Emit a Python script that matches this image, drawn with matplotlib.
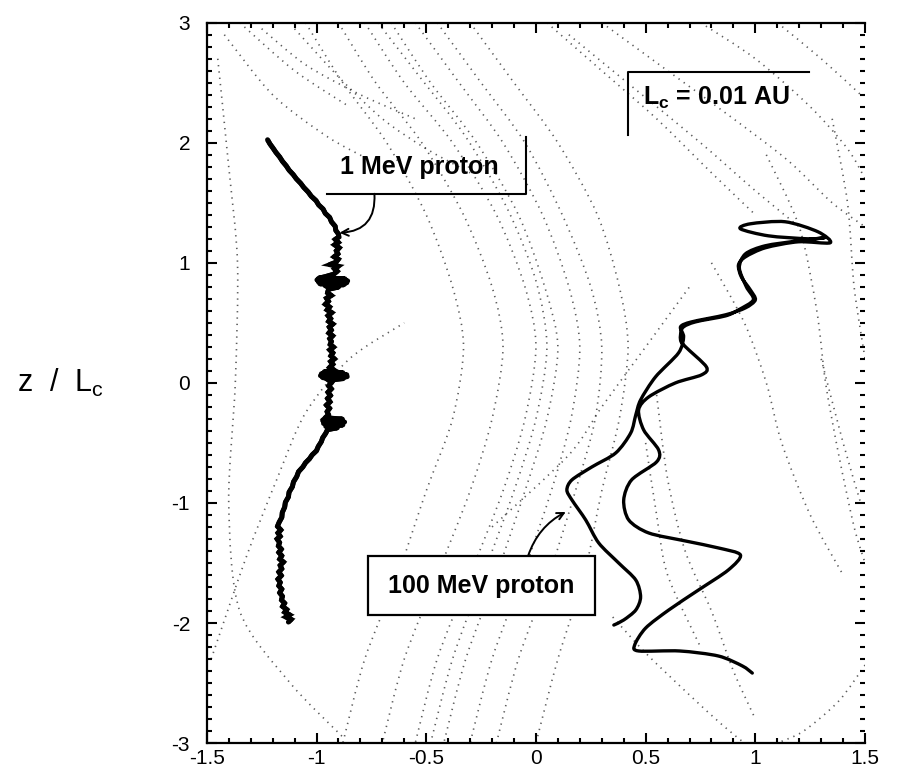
import numpy as np
import matplotlib
matplotlib.use("Agg")
import matplotlib.pyplot as plt
from matplotlib.ticker import MultipleLocator
from matplotlib.path import Path
from matplotlib.patches import PathPatch, Rectangle

plt.rcParams['font.family'] = ['Liberation Sans', 'DejaVu Sans']
plt.rcParams['mathtext.fontset'] = 'custom'
plt.rcParams['mathtext.rm'] = 'Liberation Sans'
plt.rcParams['mathtext.it'] = 'Liberation Sans'
plt.rcParams['mathtext.bf'] = 'Liberation Sans:bold'
plt.rcParams['axes.unicode_minus'] = False

# ---- axis ticks -----------------------------------------------------------
x_ticks = [-1.5, -1.0, -0.5, 0.0, 0.5, 1.0, 1.5]
x_tick_labels = ['-1.5', '-1', '-0.5', '0', '0.5', '1', '1.5']
y_ticks = [-3, -2, -1, 0, 1, 2, 3]
y_tick_labels = ['-3', '-2', '-1', '0', '1', '2', '3']

# ---- 1 MeV proton trajectory: (x / Lc, z / Lc) ----------------------------
p1_points = [
    (-1.223, 2.025), (-1.212, 1.990), (-1.198, 1.955), (-1.185, 1.920), (-1.168, 1.882),
    (-1.155, 1.845), (-1.138, 1.808), (-1.125, 1.772), (-1.106, 1.735), (-1.092, 1.700),
    (-1.072, 1.662), (-1.058, 1.628), (-1.038, 1.590), (-1.024, 1.555), (-1.002, 1.518),
    (-0.990, 1.482), (-0.970, 1.448), (-0.960, 1.412), (-0.940, 1.378), (-0.932, 1.342),
    (-0.915, 1.305), (-0.912, 1.270), (-0.900, 1.240),
    (-0.898, 1.215), (-0.915, 1.195), (-0.900, 1.170), (-0.918, 1.150), (-0.896, 1.125),
    (-0.910, 1.100), (-0.902, 1.075), (-0.920, 1.050), (-0.900, 1.030), (-0.912, 1.005),
    (-0.940, 0.985), (-0.900, 0.972), (-0.918, 0.950), (-0.905, 0.930), (-0.922, 0.905),
    (-0.960, 0.885), (-0.990, 0.872), (-0.870, 0.866), (-0.998, 0.858), (-0.858, 0.850),
    (-0.992, 0.842), (-0.862, 0.834), (-0.985, 0.826), (-0.875, 0.818), (-0.960, 0.808),
    (-0.900, 0.798), (-0.945, 0.780),
    (-0.950, 0.750), (-0.932, 0.728), (-0.955, 0.705), (-0.945, 0.680), (-0.960, 0.655),
    (-0.940, 0.632), (-0.952, 0.608), (-0.930, 0.585), (-0.948, 0.560), (-0.935, 0.535),
    (-0.945, 0.512), (-0.925, 0.490), (-0.942, 0.465), (-0.932, 0.440), (-0.944, 0.415),
    (-0.926, 0.392), (-0.940, 0.368), (-0.932, 0.345), (-0.938, 0.320), (-0.922, 0.298),
    (-0.940, 0.275), (-0.925, 0.250), (-0.935, 0.225), (-0.918, 0.200), (-0.936, 0.178),
    (-0.925, 0.155), (-0.940, 0.130), (-0.922, 0.110),
    (-0.965, 0.092), (-0.880, 0.085), (-0.978, 0.076), (-0.862, 0.068), (-0.982, 0.060),
    (-0.860, 0.052), (-0.972, 0.044), (-0.878, 0.036), (-0.945, 0.022), (-0.930, 0.005),
    (-0.945, -0.025), (-0.932, -0.050), (-0.948, -0.078), (-0.936, -0.105), (-0.950, -0.130),
    (-0.938, -0.158), (-0.955, -0.185), (-0.940, -0.212), (-0.952, -0.240), (-0.945, -0.265),
    (-0.960, -0.290), (-0.882, -0.302), (-0.972, -0.314), (-0.872, -0.326), (-0.968, -0.338),
    (-0.880, -0.350), (-0.958, -0.362), (-0.905, -0.374), (-0.950, -0.390),
    (-0.958, -0.420), (-0.972, -0.458), (-0.978, -0.490), (-0.992, -0.530), (-1.000, -0.565),
    (-1.020, -0.600), (-1.032, -0.632), (-1.050, -0.665), (-1.062, -0.700), (-1.082, -0.740),
    (-1.090, -0.780), (-1.105, -0.825), (-1.110, -0.865), (-1.125, -0.910), (-1.128, -0.950),
    (-1.142, -0.995), (-1.145, -1.035), (-1.156, -1.080), (-1.158, -1.120), (-1.170, -1.160),
    (-1.178, -1.195),
    (-1.162, -1.225), (-1.176, -1.250), (-1.165, -1.278), (-1.180, -1.300), (-1.168, -1.330),
    (-1.174, -1.358), (-1.160, -1.385), (-1.172, -1.412), (-1.158, -1.440), (-1.168, -1.468),
    (-1.150, -1.492), (-1.166, -1.520), (-1.158, -1.548), (-1.172, -1.575), (-1.160, -1.605),
    (-1.176, -1.635), (-1.165, -1.662), (-1.172, -1.690), (-1.158, -1.718), (-1.168, -1.748),
    (-1.155, -1.778), (-1.160, -1.808), (-1.145, -1.835), (-1.155, -1.862), (-1.135, -1.888),
    (-1.145, -1.910), (-1.122, -1.932), (-1.140, -1.950), (-1.115, -1.970), (-1.128, -1.992),
]

# ---- 100 MeV proton trajectory --------------------------------------------
p100_x = [0.355, 0.400, 0.455, 0.477, 0.455, 0.377, 0.286, 0.227, 0.164, 0.141,
          0.164, 0.255, 0.364, 0.432, 0.455, 0.477, 0.545, 0.650, 0.673, 0.659,
          0.709, 0.864, 0.955, 1.000, 0.977, 0.936, 0.923, 0.955, 1.045, 1.195,
          1.341, 1.286, 1.136, 0.977, 0.932, 1.059, 1.241, 1.314,
          1.195, 1.045, 0.955, 0.927, 0.959, 0.991, 0.923, 0.864, 0.727, 0.668,
          0.659, 0.682, 0.777, 0.755, 0.636, 0.514, 0.468, 0.491, 0.559, 0.550,
          0.436, 0.400, 0.423, 0.514, 0.682, 0.832, 0.932, 0.877, 0.741, 0.605,
          0.500, 0.450, 0.468, 0.655, 0.832, 0.941, 0.986]
p100_z = [-2.017, -1.975, -1.892, -1.783, -1.642, -1.500, -1.333, -1.142, -0.975, -0.892,
          -0.808, -0.700, -0.583, -0.417, -0.267, -0.142, 0.050, 0.250, 0.383, 0.467,
          0.508, 0.567, 0.625, 0.692, 0.775, 0.883, 0.983, 1.050, 1.125, 1.175,
          1.167, 1.258, 1.342, 1.325, 1.283, 1.225, 1.200, 1.208,
          1.183, 1.142, 1.075, 0.958, 0.800, 0.692, 0.608, 0.558, 0.508, 0.458,
          0.358, 0.300, 0.133, 0.067, 0.000, -0.117, -0.225, -0.392, -0.558, -0.658,
          -0.808, -0.975, -1.142, -1.250, -1.317, -1.375, -1.433, -1.558, -1.725, -1.892,
          -2.042, -2.183, -2.233, -2.233, -2.275, -2.358, -2.417]

# ---- magnetic field lines (dotted background) ------------------------------
field_lines = [
    [(-1.45, 2.7), (-1.40, 1.8), (-1.36, 1.0), (-1.37, 0.0), (-1.40, -1.0), (-1.35, -1.9), (-1.12, -2.5), (-0.88, -2.95)],
    [(-1.48, -2.3), (-1.32, -1.45), (-1.18, -0.8), (-1.05, -0.25), (-0.85, 0.2), (-0.6, 0.5)],
    [(-1.42, 2.9), (-1.2, 2.4), (-0.95, 2.05), (-0.75, 1.85)],
    [(-1.35, 3.0), (-1.1, 2.6), (-0.85, 2.3)],
    [(-1.25, 2.95), (-1.05, 2.65), (-0.8, 2.4), (-0.55, 2.2)],
    [(-1.1, 2.95), (-0.9, 2.55), (-0.7, 2.2), (-0.5, 1.95), (-0.3, 1.75)],
    [(-1.05, 3.0), (-0.88, 2.5), (-0.68, 2.0), (-0.5, 1.4), (-0.38, 0.8), (-0.33, 0.3), (-0.38, -0.3), (-0.5, -0.9), (-0.63, -1.6), (-0.78, -2.3), (-0.88, -3.0)],
    [(-0.9, 3.0), (-0.73, 2.5), (-0.52, 2.0), (-0.33, 1.4), (-0.2, 0.8), (-0.15, 0.3), (-0.2, -0.3), (-0.3, -0.9), (-0.45, -1.6), (-0.6, -2.3), (-0.7, -3.0)],
    [(-0.78, 3.0), (-0.6, 2.5), (-0.38, 2.0), (-0.18, 1.4), (-0.05, 0.8), (0.0, 0.3), (-0.05, -0.3), (-0.15, -0.9), (-0.3, -1.6), (-0.45, -2.3), (-0.55, -3.0)],
    [(-0.72, 3.0), (-0.53, 2.55), (-0.32, 2.05), (-0.13, 1.45), (0.0, 0.85), (0.05, 0.3), (0.0, -0.3), (-0.1, -0.9), (-0.24, -1.6), (-0.38, -2.3), (-0.48, -3.0)],
    [(-0.66, 3.0), (-0.48, 2.5), (-0.27, 2.0), (-0.08, 1.4), (0.04, 0.8), (0.1, 0.3), (0.05, -0.3), (-0.05, -0.9), (-0.18, -1.6), (-0.32, -2.3), (-0.42, -3.0)],
    [(-0.55, 3.0), (-0.35, 2.5), (-0.15, 2.0), (0.03, 1.4), (0.15, 0.8), (0.2, 0.3), (0.16, -0.3), (0.07, -0.9), (-0.06, -1.6), (-0.2, -2.3), (-0.3, -3.0)],
    [(-0.45, 3.0), (-0.25, 2.5), (-0.05, 2.0), (0.12, 1.4), (0.25, 0.8), (0.3, 0.3), (0.27, -0.3), (0.18, -0.9), (0.06, -1.6), (-0.08, -2.3), (-0.18, -3.0)],
    [(-0.3, 3.0), (-0.1, 2.5), (0.1, 2.0), (0.28, 1.4), (0.38, 0.8), (0.42, 0.3), (0.38, -0.3), (0.3, -0.9), (0.22, -1.6), (0.1, -2.3), (0.0, -3.0)],
    [(0.05, 3.0), (0.3, 2.6), (0.55, 2.2), (0.8, 1.75), (1.0, 1.4)],
    [(0.15, 2.9), (0.45, 2.45), (0.75, 2.0), (1.0, 1.6), (1.2, 1.3)],
    [(0.3, 3.0), (0.6, 2.6), (0.9, 2.2), (1.15, 1.85), (1.35, 1.5), (1.5, 1.3)],
    [(0.75, 3.0), (1.0, 2.7), (1.25, 2.3), (1.42, 1.95), (1.5, 1.7)],
    [(1.1, 3.0), (1.3, 2.7), (1.48, 2.4)],
    [(1.35, 2.2), (1.42, 1.5), (1.45, 0.8), (1.5, 0.2)],
    [(1.05, 1.9), (1.2, 1.3), (1.28, 0.6), (1.32, 0.0), (1.38, -0.6), (1.45, -1.2), (1.5, -1.5)],
    [(0.8, 1.0), (0.95, 0.5), (1.05, 0.0), (1.12, -0.5), (1.25, -1.1), (1.4, -1.6)],
    [(1.3, 0.2), (1.4, -0.5), (1.48, -1.0)],
    [(0.55, -0.1), (0.6, -0.8), (0.68, -1.4), (0.8, -1.9), (0.9, -2.4), (1.0, -2.8)],
    [(0.35, -1.95), (0.5, -2.25), (0.7, -2.6), (0.85, -2.85), (0.95, -3.0)],
    [(1.5, -2.35), (1.38, -2.65), (1.22, -2.9), (1.1, -3.0)],
    [(-0.2, -1.2), (0.15, -0.6), (0.3, -0.2), (0.5, 0.3), (0.7, 0.8)],
    [(0.5, -0.5), (0.55, -1.1), (0.6, -1.6), (0.75, -2.2)],
]


def smooth_path(xs, ys):
    """Catmull-Rom curve through the given points, as cubic Bezier segments."""
    pts = np.column_stack([xs, ys])
    ext = np.vstack([pts[0], pts, pts[-1]])
    verts = [pts[0]]
    codes = [Path.MOVETO]
    for i in range(1, len(ext) - 2):
        p0, p1, p2, p3 = ext[i - 1], ext[i], ext[i + 1], ext[i + 2]
        verts += [p1 + (p2 - p0) / 7.0, p2 - (p3 - p1) / 7.0, p2]
        codes += [Path.CURVE4] * 3
    return Path(verts, codes)


fig = plt.figure(figsize=(9.03, 7.83), dpi=100)
ax = fig.add_axes([0.229, 0.051, 0.729, 0.920])

for line in field_lines:
    fx, fz = zip(*line)
    ax.add_patch(PathPatch(smooth_path(fx, fz), fill=False, ec='0.2', lw=1.2,
                           ls=(0, (0.8, 3.0)), alpha=0.8, zorder=1))

# rough 1 MeV track: spiky outline plus a rounded core
p1_x, p1_z = zip(*p1_points)
ax.plot(p1_x, p1_z, color='black', lw=3.4, solid_joinstyle='miter',
        solid_capstyle='butt', zorder=3)
ax.plot(p1_x, p1_z, color='black', lw=3.6, solid_joinstyle='round',
        solid_capstyle='round', zorder=3)
ax.add_patch(PathPatch(smooth_path(p100_x, p100_z), fill=False, ec='black',
                       lw=2.4, joinstyle='round', capstyle='round', zorder=3))

ax.set_xlim(-1.5, 1.5)
ax.set_ylim(-3, 3)
ax.set_xticks(x_ticks, x_tick_labels)
ax.set_yticks(y_ticks, y_tick_labels)
ax.xaxis.set_minor_locator(MultipleLocator(0.1))
ax.yaxis.set_minor_locator(MultipleLocator(0.1))
ax.tick_params(which='both', direction='in', top=True, right=True, width=1.5,
               labelsize=15)
ax.tick_params(which='major', length=7)
ax.tick_params(which='minor', length=3.5)
ax.tick_params(axis='x', pad=4)
ax.tick_params(axis='y', pad=12)
for side in ('left', 'top', 'bottom'):
    ax.spines[side].set_linewidth(1.6)
ax.spines['right'].set_visible(False)

ax.set_ylabel(r'z  /  L$_{\mathrm{c}}$', rotation=0, fontsize=22, va='center',
              ha='center')
ax.yaxis.set_label_coords(-0.222, 0.5)

# ---- annotation boxes ------------------------------------------------------
ax.text(-0.53, 1.80, '1 MeV proton', fontsize=18, fontweight='bold',
        ha='center', va='center', zorder=4)
ax.plot([-0.95, -0.045, -0.045], [1.575, 1.575, 2.05], color='black', lw=1.5, zorder=4)

ax.text(0.82, 2.37, r'L$_{\mathbf{c}}$ = 0.01 AU', fontsize=18, fontweight='bold',
        ha='center', va='center', zorder=4)
ax.plot([0.418, 0.418, 1.245], [2.067, 2.59, 2.59], color='black', lw=1.5, zorder=4)

ax.add_patch(Rectangle((-0.764, -1.933), 1.032, 0.491, fc='white', ec='black',
                       lw=1.6, zorder=4))
ax.text(-0.248, -1.69, '100 MeV proton', fontsize=18, fontweight='bold',
        ha='center', va='center', zorder=5)

ax.annotate('', xy=(-0.895, 1.25), xytext=(-0.736, 1.575),
            arrowprops=dict(arrowstyle='->,head_length=0.5,head_width=0.25',
                            lw=1.4, color='black', shrinkA=0, shrinkB=0,
                            connectionstyle='arc3,rad=-0.5'), zorder=4)
ax.annotate('', xy=(0.136, -1.075), xytext=(-0.036, -1.442),
            arrowprops=dict(arrowstyle='->,head_length=0.5,head_width=0.25',
                            lw=1.4, color='black', shrinkA=0, shrinkB=0,
                            connectionstyle='arc3,rad=-0.2'), zorder=4)

fig.savefig('out.png', dpi=100)
